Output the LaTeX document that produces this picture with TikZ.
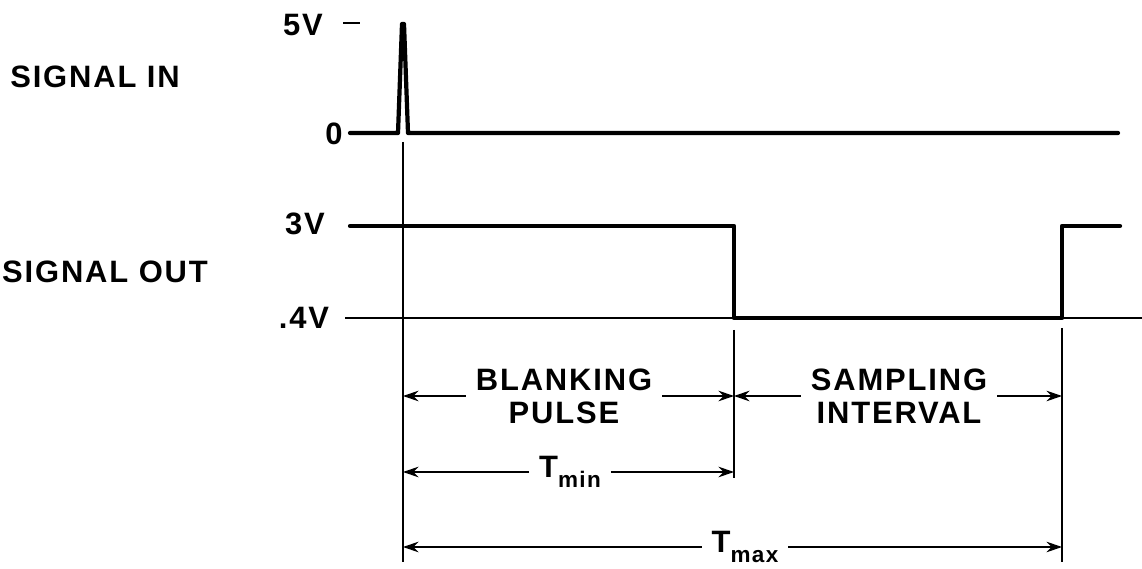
\documentclass[tikz,border=0pt]{standalone}
\usepackage{fontspec}
\setmainfont{Liberation Sans}[LetterSpace=6]
\usepackage{tikz}
\usetikzlibrary{positioning,arrows.meta}
\tikzset{
    wave/.style={line width=3pt, line join=round, line cap=round},
    guide/.style={line width=1.3pt},
    dim/.style={line width=1.3pt, -{Stealth[length=11pt,width=7.5pt,inset=3.5pt]}},
    levtext/.style={font=\bfseries\fontsize{22}{24}\selectfont, inner sep=0pt},
    spantext/.style={font=\bfseries\fontsize{22}{23.5}\selectfont, align=center, inner xsep=7pt, inner ysep=0pt}
}
\newcommand{\tsub}[1]{T\raisebox{-7pt}{\fontsize{16}{16}\selectfont #1}}

\begin{document}
\begin{tikzpicture}[x=0.025cm, y=-0.025cm]
    \useasboundingbox (0,0) rectangle (1142,569);

    % level labels
    \node[levtext] (sigin) at (95,77) {SIGNAL IN};
    \node[levtext] (sigout) at (105,272) {SIGNAL OUT};
    \node[levtext] (v5) at (303,25) {5V};
    \node[levtext] (v0) at (334,134) {0};
    \node[levtext] (v3) at (305,224) {3V};
    \node[levtext] (v04) at (304,318) {.4V};

    % time marks
    \coordinate (p0) at (403,142);
    \coordinate (p1) at (403,562);
    \coordinate (q0) at (734,330);
    \coordinate (q1) at (734,478);
    \coordinate (r0) at (1062,328);
    \coordinate (r1) at (1062,562);

    % waveforms
    \draw[guide] (343,23) -- (360,23);
    \draw[wave] (350,133) -- (398,133) -- (402,24) -- (404,24) -- (408,133) -- (1118,133);
    \draw[guide] (345,318) -- (1142,318);
    \draw[wave] (350,226) -- (734,226) -- (734,318) -- (1062,318) -- (1062,226) -- (1120,226);

    \draw[guide] (p0) -- (p1);
    \draw[guide] (q0) -- (q1);
    \draw[guide] (r0) -- (r1);

    % spans
    \node[spantext] (blank) at (564,396) {BLANKING\\PULSE};
    \node[spantext] (sample) at (899,396) {SAMPLING\\INTERVAL};
    \node[spantext] (tmin) at (570,472) {\tsub{min}};
    \node[spantext] (tmax) at (745,547) {\tsub{max}};

    \draw[dim] (blank) -- (blank -| p0);
    \draw[dim] (blank) -- (blank -| q0);
    \draw[dim] (sample) -- (sample -| q0);
    \draw[dim] (sample) -- (sample -| r0);
    \draw[dim] (tmin) -- (tmin -| p0);
    \draw[dim] (tmin) -- (tmin -| q0);
    \draw[dim] (tmax) -- (tmax -| p0);
    \draw[dim] (tmax) -- (tmax -| r0);
\end{tikzpicture}
\end{document}
